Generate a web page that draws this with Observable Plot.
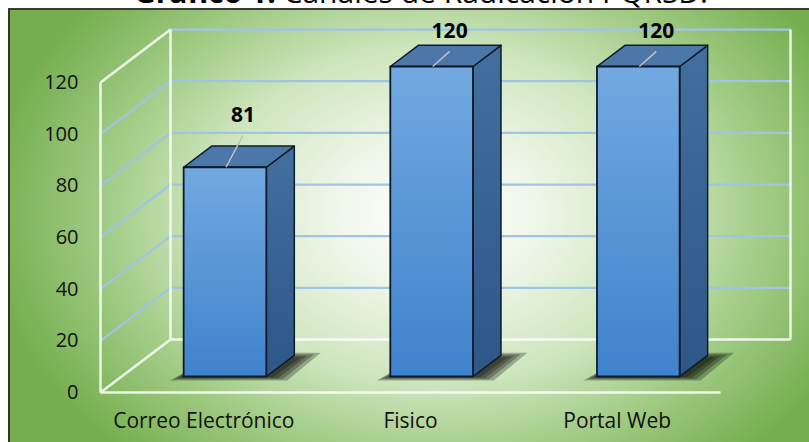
<!DOCTYPE html>
<html>
<head>
<meta charset="utf-8">
<script src="https://cdn.jsdelivr.net/npm/d3@7"></script>
<script src="https://cdn.jsdelivr.net/npm/@observablehq/plot@0.6"></script>
<style>
  html, body { margin: 0; padding: 0; background: #fff; }
  body { width: 809px; height: 442px; overflow: hidden; position: relative; font-family: "Open Sans", sans-serif; }
  #title { position: absolute; left: 0; width: 842px; top: -23px; text-align: center; font-size: 30px; line-height: 30px; white-space: nowrap; color: #000; }
  #box { position: absolute; left: 8px; top: 8px; width: 820px; height: 450px;
    border-left: 2px solid #333; border-top: 2px solid #3a3a3a;
    background: radial-gradient(ellipse 450px 330px at 425px 205px, #ffffff 0%, #f0f7ea 22%, #cfe6bf 50%, #9fca82 75%, #74ae4e 100%); }
  #chart { position: absolute; left: 0; top: 0; }
  #chart svg { overflow: visible; }
</style>
</head>
<body>
<div id="title"><b>Gráfico 1.</b> Canales de Radicación PQRSD.</div>
<div id="box"></div>
<div id="chart"></div>
<script>
// ---- data ----
const categories = ["Correo Electrónico", "Fisico", "Portal Web"];
const values = [81, 120, 120];
const yTicks = [0, 20, 40, 60, 80, 100, 120];

// ---- 3D geometry helpers (data units) ----
const yMax = 120;
const nCat = categories.length;
const DX = 0.3387, DY = 20.5;       // full depth of the box, in x / y data units
const z0 = 0.302, z1 = 0.702;       // depth range of the bars
const hw = 0.2;                     // half width of a bar
const proj = (x, v, z) => [x + z * DX, v + z * DY];

const catX = categories.map((_, i) => i + 0.5);

function seg(a, b, extra = {}) {
  return {x1: a[0], y1: a[1], x2: b[0], y2: b[1], ...extra};
}

// walls
const backGrid = yTicks.filter(t => t > 0).map(t => seg(proj(0, t, 1), proj(nCat, t, 1)));
const leftGrid = yTicks.filter(t => t > 0 && t < yMax).map(t => seg(proj(0, t, 0), proj(0, t, 1)));
const frame = [
  seg(proj(0, 0, 0), proj(0, yMax, 0)),
  seg(proj(0, yMax, 0), proj(0, yMax, 1)),
  seg(proj(0, 0, 1), proj(0, yMax, 1)),
  seg(proj(0, 0, 0), proj(0, 0, 1)),
  seg(proj(0, 0, 0), proj(nCat, 0, 0)),
  seg(proj(0, 0, 1), proj(nCat, 0, 1)),
  seg(proj(nCat, 0, 1), proj(nCat, yMax, 1))
];

// bar faces as polygons
function poly(id, pts) { return pts.map(p => ({id, x: p[0], y: p[1]})); }
const fronts = [], sides = [], tops = [], shadows = [];
const shadowLayers = [0, 1, 2, 3];
values.forEach((v, i) => {
  const c = catX[i];
  fronts.push(...poly(i, [proj(c - hw, 0, z0), proj(c + hw, 0, z0), proj(c + hw, v, z0), proj(c - hw, v, z0)]));
  sides.push(...poly(i, [proj(c + hw, 0, z0), proj(c + hw, 0, z1), proj(c + hw, v, z1), proj(c + hw, v, z0)]));
  tops.push(...poly(i, [proj(c - hw, v, z0), proj(c + hw, v, z0), proj(c + hw, v, z1), proj(c - hw, v, z1)]));
  // soft shadow: stacked translucent layers, each a bit larger than the last
  shadowLayers.forEach(k => {
    const el = 0.012 + 0.018 * k, er = 0.035 + 0.022 * k, eb = 0.2 + 0.45 * k, zb = z1 - 0.04 + 0.03 * k;
    shadows.push(...poly(i + "-" + k, [proj(c - hw - el, -eb, z0), proj(c + hw + er, -eb, z0), proj(c + hw + er + 0.01, 0, zb), proj(c - hw + 0.02, 0, zb)]));
  });
});

// value labels (kept inside the chart area) and leader lines
const labels = values.map((v, i) => {
  const lv = Math.min(v + 16, yMax + 9.5);
  const p = proj(catX[i] + 0.02, lv, 0.5);
  return {x: p[0], y: p[1], text: String(v), v, i, lv};
});
const leaders = labels.map(l => {
  const a = proj(catX[l.i] + 0.02, l.lv - 7.7, 0.5);
  const b = proj(catX[l.i] + 0.005, l.v, z0);
  return seg(a, b);
});

const white = "rgba(255,255,255,0.85)";
const grid = "#9fc4e4";

const chart = Plot.plot({
  width: 809,
  height: 442,
  marginLeft: 100,
  marginRight: 89,
  marginTop: 82,
  marginBottom: 50,
  style: {background: "none", fontFamily: "Open Sans, sans-serif", fontSize: "20px", color: "#111", overflow: "visible"},
  x: {domain: [0, nCat], ticks: catX, tickFormat: d => categories[Math.floor(d)], tickSize: 0, tickPadding: 21, label: null},
  y: {domain: [0, yMax], ticks: yTicks, tickSize: 0, tickPadding: 22, label: null},
  marks: [
    Plot.link(backGrid, {x1: "x1", y1: "y1", x2: "x2", y2: "y2", stroke: grid, strokeWidth: 2.2}),
    Plot.link(leftGrid, {x1: "x1", y1: "y1", x2: "x2", y2: "y2", stroke: grid, strokeWidth: 2.2}),
    Plot.link(frame, {x1: "x1", y1: "y1", x2: "x2", y2: "y2", stroke: white, strokeWidth: 2.5}),
    Plot.line(shadows, {x: "x", y: "y", z: "id", curve: "linear-closed", fill: "#000", fillOpacity: 0.27, stroke: "none"}),
    Plot.line(sides, {x: "x", y: "y", z: "id", curve: "linear-closed", fill: "url(#gSide)", stroke: "#0d1a2a", strokeWidth: 1.5, strokeLinejoin: "round"}),
    Plot.line(tops, {x: "x", y: "y", z: "id", curve: "linear-closed", fill: "#4c78a9", stroke: "#0d1a2a", strokeWidth: 1.5, strokeLinejoin: "round"}),
    Plot.line(fronts, {x: "x", y: "y", z: "id", curve: "linear-closed", fill: "url(#gFront)", stroke: "#0d1a2a", strokeWidth: 1.8, strokeLinejoin: "round"}),
    Plot.link(leaders, {x1: "x1", y1: "y1", x2: "x2", y2: "y2", stroke: "#c0c0c0", strokeWidth: 1.5}),
    Plot.text(labels, {x: "x", y: "y", text: "text", fontSize: 21, fontWeight: "bold", fill: "#000"})
  ]
});

// gradients
const svg = d3.select(chart);
const defs = svg.insert("defs", ":first-child");
const gf = defs.append("linearGradient").attr("id", "gFront").attr("x1", 0).attr("y1", 0).attr("x2", 0).attr("y2", 1);
gf.append("stop").attr("offset", "0%").attr("stop-color", "#72a9e0");
gf.append("stop").attr("offset", "100%").attr("stop-color", "#3f82cc");
const gs = defs.append("linearGradient").attr("id", "gSide").attr("x1", 0).attr("y1", 0).attr("x2", 0).attr("y2", 1);
gs.append("stop").attr("offset", "0%").attr("stop-color", "#436f9e");
gs.append("stop").attr("offset", "100%").attr("stop-color", "#2c5786");
svg.selectAll('[aria-label="x-axis tick label"] text, g[aria-label="x-axis"] text').style("font-size", "21px");

document.getElementById("chart").appendChild(chart);
</script>
</body>
</html>
